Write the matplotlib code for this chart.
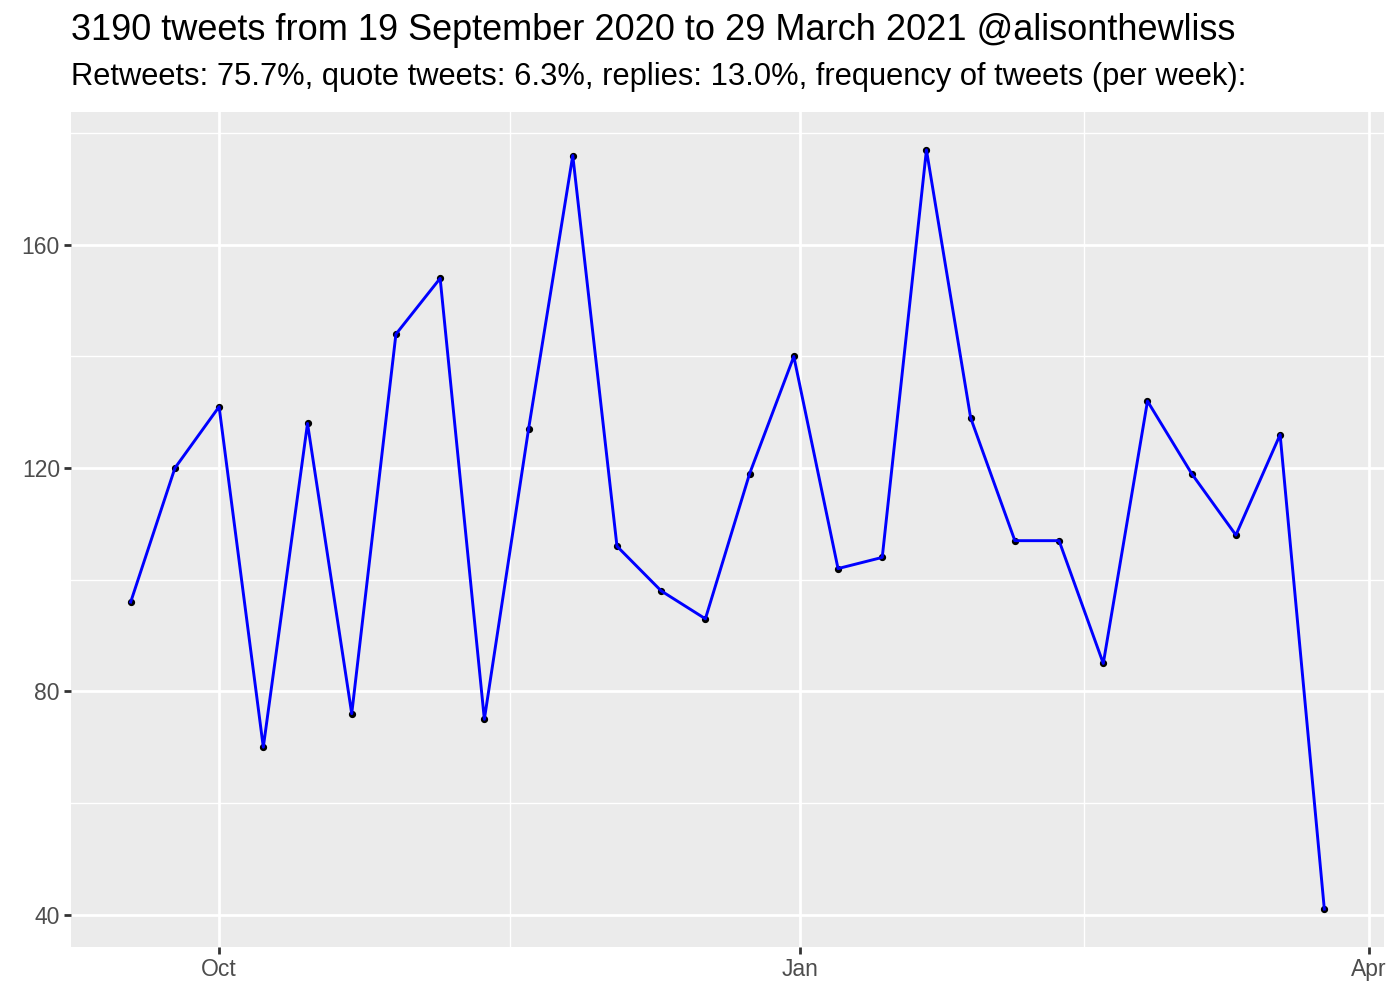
import matplotlib
matplotlib.use("Agg")
import matplotlib.pyplot as plt
import matplotlib.dates as mdates
import pandas as pd

weeks = ["2020-09-17", "2020-09-24", "2020-10-01", "2020-10-08", "2020-10-15",
         "2020-10-22", "2020-10-29", "2020-11-05", "2020-11-12", "2020-11-19",
         "2020-11-26", "2020-12-03", "2020-12-10", "2020-12-17", "2020-12-24",
         "2020-12-31", "2021-01-07", "2021-01-14", "2021-01-21", "2021-01-28",
         "2021-02-04", "2021-02-11", "2021-02-18", "2021-02-25", "2021-03-04",
         "2021-03-11", "2021-03-18", "2021-03-25"]
counts = [96, 120, 131, 70, 128, 76, 144, 154, 75, 127, 176, 106, 98, 93, 119,
          140, 102, 104, 177, 129, 107, 107, 85, 132, 119, 108, 126, 41]

x_major = ["2020-10-01", "2021-01-01", "2021-04-01"]
x_major_labels = ["Oct", "Jan", "Apr"]
x_minor = ["2020-11-16", "2021-02-15"]
y_major = [40, 80, 120, 160]
y_minor = [60, 100, 140, 180]

title = "3190 tweets from 19 September 2020 to 29 March 2021 @alisonthewliss"
subtitle = "Retweets: 75.7%, quote tweets: 6.3%, replies: 13.0%, frequency of tweets (per week):"

plt.rcParams['font.family'] = ['Liberation Sans', 'DejaVu Sans']

dates = pd.to_datetime(weeks)
fig = plt.figure(figsize=(14, 10), dpi=100)
ax = fig.add_axes([71/1400, 1 - 947/1000, (1384-71)/1400, (947-112)/1000])
ax.set_facecolor("#EBEBEB")
for s in ax.spines.values():
    s.set_visible(False)

xd = mdates.date2num(dates)
span = xd.max() - xd.min()
ax.set_xlim(xd.min() - 0.05*span, xd.max() + 0.05*span)
yr = max(counts) - min(counts)
ax.set_ylim(min(counts) - 0.05*yr, max(counts) + 0.05*yr)

for v in mdates.date2num(pd.to_datetime(x_minor)):
    ax.axvline(v, color="white", lw=1.0, zorder=0.5)
for v in y_minor:
    ax.axhline(v, color="white", lw=1.0, zorder=0.5)
for v in mdates.date2num(pd.to_datetime(x_major)):
    ax.axvline(v, color="white", lw=2.0, zorder=0.6)
for v in y_major:
    ax.axhline(v, color="white", lw=2.0, zorder=0.6)

ax.plot(dates, counts, "o", color="black", markersize=4.2, zorder=2)
ax.plot(dates, counts, "-", color="#0000FF", lw=2.1, zorder=3)

ax.set_xticks(mdates.date2num(pd.to_datetime(x_major)))
ax.set_xticklabels(x_major_labels)
ax.set_yticks(y_major)
ax.set_yticklabels([str(v) for v in y_major])
ax.tick_params(axis="both", length=5, width=2.0, color="#333333",
               labelcolor="#4D4D4D", labelsize=16.5)
ax.tick_params(axis="x", pad=3)
ax.tick_params(axis="y", pad=3)

fig.text(71/1400, 1 - 31/1000, title, fontsize=26, color="black",
         ha="left", va="center")
fig.text(71/1400, 1 - 77/1000, subtitle, fontsize=22.2, color="black",
         ha="left", va="center")

fig.savefig("out.png", dpi=100, facecolor="white")
